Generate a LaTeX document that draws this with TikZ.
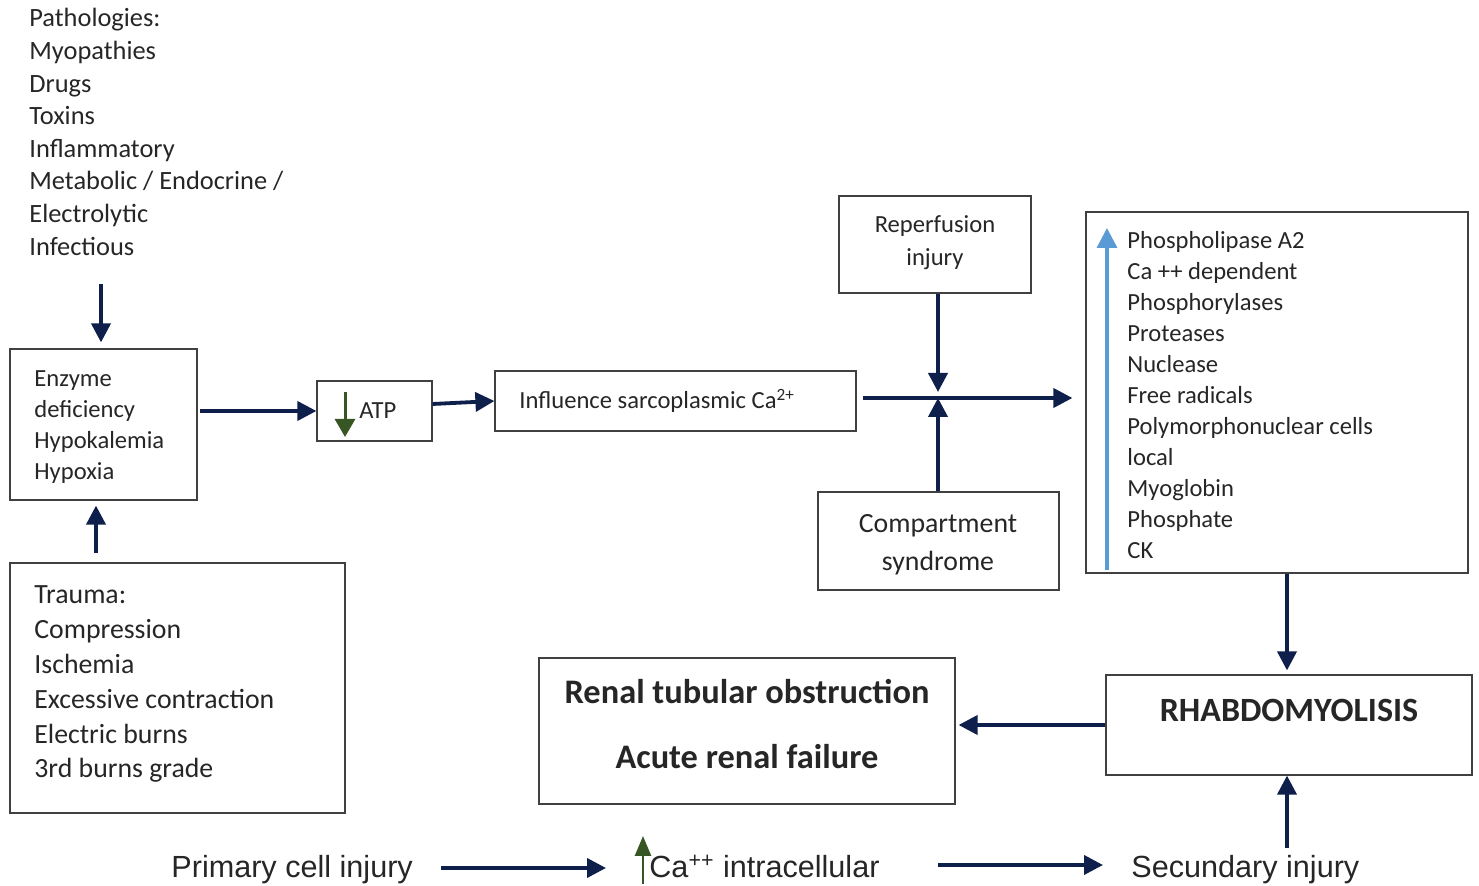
\documentclass[tikz,border=0pt]{standalone}
\usepackage{fontspec}
\setmainfont{Carlito}
\newfontfamily\arialfont{Liberation Sans}
\usetikzlibrary{arrows.meta}
\usetikzlibrary{fit}
\definecolor{navy}{HTML}{0E1F4B}
\definecolor{leaf}{HTML}{375623}
\definecolor{sky}{HTML}{5B9BD5}
\definecolor{ink}{HTML}{262626}
\tikzset{
 box/.style={draw=black!75, line width=0.6pt, inner sep=0pt},
 arr/.style={navy, line width=1.9pt, -{Triangle[length=9.5pt,width=9.5pt]}},
 item/.style={anchor=base west, inner sep=0pt, text=ink, font=\fontsize{12.3}{15}\selectfont},
 big/.style={item, font=\fontsize{13.9}{17}\selectfont},
 head/.style={anchor=base, inner sep=0pt, text=ink, font=\bfseries\fontsize{17.2}{20}\selectfont},
 low/.style={anchor=base west, inner sep=0pt, text=ink, font=\arialfont\fontsize{15.3}{18}\selectfont},
}

\begin{document}
\begin{tikzpicture}[x=0.5pt, y=-0.5pt]
\useasboundingbox (0,0) rectangle (1479,886);

% causes
\foreach \t [count=\i] in {Pathologies:, Myopathies, Drugs, Toxins, Inflammatory, Metabolic / Endocrine /, Electrolytic, Infectious}
 \node[item, font=\fontsize{13.2}{16}\selectfont] (patho-\i) at (29,{27+32.6*(\i-1)}) {\t};

% boxes
\node[box, fit={(10,349) (197,500)}] (enzyme) {};
\node[box, fit={(317,381) (432,441)}] (atp) {};
\node[box, fit={(495,371) (856,431)}] (infl) {};
\node[box, fit={(839,196) (1031,293)}] (reperf) {};
\node[box, fit={(818,492) (1059,590)}] (compart) {};
\node[box, fit={(1086,212) (1468,573)}] (effects) {};
\node[box, fit={(10,563) (345,813)}] (trauma) {};
\node[box, fit={(539,658) (955,804)}] (renal) {};
\node[box, fit={(1106,675) (1472,775)}] (rhabdo) {};

\foreach \t [count=\i] in {Enzyme, deficiency, Hypokalemia, Hypoxia}
 \node[item] (enz-\i) at (34,{387+31*(\i-1)}) {\t};

\node[item] (atp-txt) at (359,419) {ATP};
\draw[leaf, line width=1.5pt, -{Triangle[length=9pt,width=10pt]}] (345,392) -- (345,437);

\node[item] (infl-txt) at (519,409) {Influence sarcoplasmic Ca\textsuperscript{2+}};

\node[item, anchor=base] (reperf-1) at (935,233) {Reperfusion};
\node[item, anchor=base] (reperf-2) at (935,266) {injury};

\node[big, anchor=base] (compart-1) at (938,533) {Compartment};
\node[big, anchor=base] (compart-2) at (938,571) {syndrome};

\foreach \t [count=\i] in {Phospholipase A2, Ca ++ dependent, Phosphorylases, Proteases, Nuclease, Free radicals, Polymorphonuclear cells, local, Myoglobin, Phosphate, CK}
 \node[item] (eff-\i) at (1127,{249+31*(\i-1)}) {\t};
\draw[sky, line width=1.7pt, -{Triangle[length=10pt,width=10pt]}] (1107,570) -- (1107,228);

\foreach \t [count=\i] in {Trauma:, Compression, Ischemia, Excessive contraction, Electric burns, 3rd burns grade}
 \node[big] (trauma-\i) at (34,{604+34.8*(\i-1)}) {\t};

\node[head] (renal-1) at (747,704) {Renal tubular obstruction};
\node[head] (renal-2) at (747,769) {Acute renal failure};
\node[head, font=\bfseries\fontsize{17}{20}\selectfont] (rhabdo-txt) at (1289,722) {RHABDOMYOLISIS};

% bottom row
\node[low] (primary) at (171,878) {Primary cell injury};
\node[low] (calcium) at (649,878) {Ca\textsuperscript{++} intracellular};
\node[low] (secund) at (1131,878) {Secundary injury};
\draw[leaf, line width=1.3pt, -{Triangle[length=10pt,width=8pt]}] (643,884) -- (643,836);

% connectors
\coordinate (patho-tail) at (101,284);
\draw[arr, shorten >=3pt] (patho-tail) -- (patho-tail |- enzyme.north);
\coordinate (trauma-tail) at (96,553);
\draw[arr, shorten >=2.5pt] (trauma-tail) -- (trauma-tail |- enzyme.south);
\draw[arr, shorten <=1pt] (enzyme.east |- atp.west) -- (atp.west);
\draw[arr] ([yshift=3.5pt]atp.east) -- (infl.west);
\coordinate (junction) at (938,398);
\draw[arr, shorten <=3pt, shorten >=6.5pt] (infl.east |- junction) -- (effects.west |- junction);
\draw[arr, shorten >=3pt] (reperf.south -| junction) -- (junction);
\draw[arr] (compart.north -| junction) -- (junction);
\coordinate (down-x) at (1287,0);
\draw[arr, shorten >=2pt] (effects.south -| down-x) -- (rhabdo.north -| down-x);
\draw[arr, shorten >=1.5pt] (rhabdo.west) -- (renal.east |- rhabdo.west);
\coordinate (secund-tail) at (1287,848);
\draw[arr] (secund-tail) -- (rhabdo.south -| secund-tail);
\coordinate (row-a) at (441,868);
\coordinate (row-b) at (938,865);
\draw[arr] (row-a) -- (calcium.west |- row-a) [shorten >=21.5pt];
\draw[arr, shorten >=14pt] (row-b) -- (secund.west |- row-b);
\end{tikzpicture}
\end{document}
